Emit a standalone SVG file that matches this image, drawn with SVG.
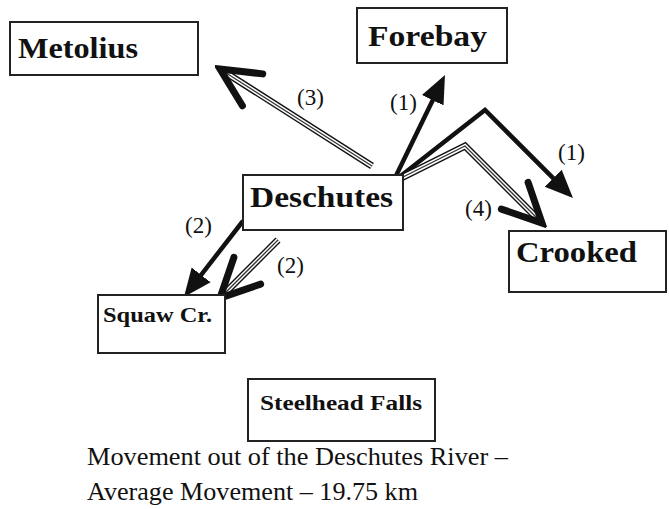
<svg xmlns="http://www.w3.org/2000/svg" xmlns:xlink="http://www.w3.org/1999/xlink" width="669" height="509" viewBox="0 0 669 509" font-family="Liberation Serif, Times New Roman, serif">
<style>
.box{fill:#fff;stroke:#222;stroke-width:2}
.nl{font-weight:bold;fill:#111}
.lbl{font-size:23px;fill:#111}
.cap{font-size:25px;fill:#111}
.solid{fill:none;stroke:#111;stroke-width:4.5;stroke-linejoin:miter;marker-end:url(#fillHead)}
.dblA{fill:none;stroke:#111;stroke-width:7;stroke-linejoin:miter}
.dblB{fill:none;stroke:#fff;stroke-width:4.2;stroke-linejoin:miter}
.dblC{fill:none;stroke:#333;stroke-width:1.3;stroke-linejoin:miter;marker-end:url(#openHead)}
</style>
<defs>
<marker id="fillHead" markerUnits="userSpaceOnUse" viewBox="0 0 30 26" markerWidth="30" markerHeight="26" refX="18" refY="13" orient="auto">
<path d="M0,1 L28,13 L0,25 Z" fill="#111"/>
</marker>
<marker id="openHead" markerUnits="userSpaceOnUse" viewBox="-46 -26 52 52" markerWidth="52" markerHeight="52" refX="-4" refY="0" orient="auto">
<path d="M-38.6,-18.9 L0,0 L-38.6,18.9" fill="none" stroke="#111" stroke-width="7" stroke-linejoin="miter" stroke-linecap="round"/>
</marker>
<path id="p3" d="M372,166 L223.4,71.2"/>
<path id="p4" d="M393,182 L465,146 L539.2,220.2"/>
<path id="p2b" d="M278,240 L222.8,295.2"/>
</defs>

<g id="connectors">
<path class="solid" d="M393,182 L440.6,84"/>
<path class="solid" d="M393,182 L485,110 L565.9,190.9"/>
<path class="solid" d="M243,221 L190.1,289.1"/>
<use xlink:href="#p3" class="dblA"/><use xlink:href="#p3" class="dblB"/><use xlink:href="#p3" class="dblC"/>
<use xlink:href="#p4" class="dblA"/><use xlink:href="#p4" class="dblB"/><use xlink:href="#p4" class="dblC"/>
<use xlink:href="#p2b" class="dblA"/><use xlink:href="#p2b" class="dblB"/><use xlink:href="#p2b" class="dblC"/>
<text class="lbl" font-family="Liberation Serif, serif" x="297" y="105">(3)</text>
<text class="lbl" font-family="Liberation Serif, serif" x="390" y="110">(1)</text>
<text class="lbl" font-family="Liberation Serif, serif" x="558" y="160">(1)</text>
<text class="lbl" font-family="Liberation Serif, serif" x="465" y="216">(4)</text>
<text class="lbl" font-family="Liberation Serif, serif" x="185" y="233">(2)</text>
<text class="lbl" font-family="Liberation Serif, serif" x="277" y="273">(2)</text>
</g>

<g id="metolius">
<rect class="box" x="10" y="22" width="188" height="53"/>
<text class="nl" font-family="Liberation Serif, serif" x="18" y="58" font-size="30" textLength="120" lengthAdjust="spacingAndGlyphs">Metolius</text>
</g>
<g id="forebay">
<rect class="box" x="357" y="8" width="150" height="55"/>
<text class="nl" font-family="Liberation Serif, serif" x="368" y="46" font-size="30" textLength="119" lengthAdjust="spacingAndGlyphs">Forebay</text>
</g>
<g id="deschutes">
<rect class="box" x="243" y="175" width="160" height="55"/>
<text class="nl" font-family="Liberation Serif, serif" x="250" y="207" font-size="30" textLength="143" lengthAdjust="spacingAndGlyphs">Deschutes</text>
</g>
<g id="crooked">
<rect class="box" x="509" y="231" width="157" height="61"/>
<text class="nl" font-family="Liberation Serif, serif" x="516" y="262" font-size="30" textLength="121" lengthAdjust="spacingAndGlyphs">Crooked</text>
</g>
<g id="squaw">
<rect class="box" x="98" y="295" width="127" height="58"/>
<text class="nl" font-family="Liberation Serif, serif" x="103" y="322" font-size="21" textLength="109" lengthAdjust="spacingAndGlyphs">Squaw Cr.</text>
</g>
<g id="steelhead">
<rect class="box" x="248" y="379" width="187" height="62"/>
<text class="nl" font-family="Liberation Serif, serif" x="260" y="410" font-size="22" textLength="162" lengthAdjust="spacingAndGlyphs">Steelhead Falls</text>
</g>

<text class="cap" font-family="Liberation Serif, serif" x="87" y="465" textLength="421" lengthAdjust="spacingAndGlyphs">Movement out of the Deschutes River –</text>
<text class="cap" font-family="Liberation Serif, serif" x="87" y="500" textLength="331" lengthAdjust="spacingAndGlyphs">Average Movement – 19.75 km</text>
</svg>
